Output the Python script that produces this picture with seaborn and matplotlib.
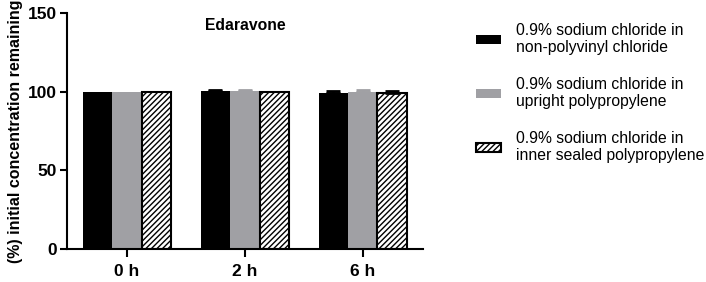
import matplotlib
matplotlib.use("Agg")
import matplotlib.pyplot as plt
import seaborn as sns
import pandas as pd
import numpy as np
from matplotlib.patches import Patch

sns.set_theme(style="ticks")
plt.rcParams['font.family'] = ['Liberation Sans', 'DejaVu Sans']
plt.rcParams['hatch.linewidth'] = 1.0
plt.rcParams['text.color'] = 'black'
plt.rcParams['axes.labelcolor'] = 'black'
plt.rcParams['xtick.color'] = 'black'
plt.rcParams['ytick.color'] = 'black'
plt.rcParams['axes.edgecolor'] = 'black'

times = ["0 h", "2 h", "6 h"]
groups = ["0.9% sodium chloride in\nnon-polyvinyl chloride",
          "0.9% sodium chloride in\nupright polypropylene",
          "0.9% sodium chloride in\ninner sealed polypropylene"]
means_npvc = [100.0, 100.4, 99.3]
means_upp = [100.0, 100.2, 100.0]
means_ispp = [100.0, 100.0, 99.2]
sd_npvc = [0.0, 0.9, 1.2]
sd_upp = [0.0, 1.0, 1.0]
sd_ispp = [0.0, 0.0, 1.4]
colors = ["#000000", "#A0A0A4", "#FFFFFF"]
err_colors = ["#000000", "#A0A0A4", "#000000"]

means = [means_npvc, means_upp, means_ispp]
sds = [sd_npvc, sd_upp, sd_ispp]
rows = []
for g, m, s in zip(groups, means, sds):
    for t, mv, sv in zip(times, m, s):
        rows.append({"time": t, "group": g, "mean": mv, "sd": sv})
df = pd.DataFrame(rows)

fig = plt.figure(figsize=(7.06, 2.82), dpi=100)
ax = fig.add_axes([0.0949, 0.117, 0.504, 0.837])

sns.barplot(data=df, x="time", y="mean", hue="group", hue_order=groups,
            order=times, palette=colors, width=0.75, errorbar=None,
            legend=False, ax=ax, linewidth=0, saturation=1)

bar_containers = list(ax.containers)
for gi, cont in enumerate(bar_containers):
    for ti, bar in enumerate(cont.patches):
        if gi == 2:
            bar.set_hatch("//////")
            bar.set_edgecolor("black")
            bar.set_linewidth(1.5)
        cx = bar.get_x() + bar.get_width() / 2
        top = bar.get_height()
        sd = sds[gi][ti]
        if sd > 0:
            ax.errorbar([cx], [top], yerr=[[0], [sd]], fmt="none",
                        ecolor=err_colors[gi], elinewidth=2, capsize=5,
                        capthick=2, zorder=1)

ax.set_ylim(0, 150)
ax.set_xlim(-0.51, 2.51)
ax.set_yticks([0, 50, 100, 150])
ax.set_xlabel("")
ax.set_ylabel("(%) initial concentration remaining", fontsize=11.5,
              fontweight="bold", labelpad=4)
for lab in ax.get_yticklabels() + ax.get_xticklabels():
    lab.set_fontweight("bold")
ax.tick_params(axis="y", labelsize=12.5, width=1.5, length=5, pad=2)
ax.tick_params(axis="x", labelsize=12.5, width=1.5, length=6, pad=5)
for sp in ["left", "bottom"]:
    ax.spines[sp].set_linewidth(1.5)
sns.despine(ax=ax)

ax.text(0.5, 0.945, "Edaravone", transform=ax.transAxes, ha="center",
        va="center", fontsize=11.3, fontweight="bold")

handles = []
for gi, g in enumerate(groups):
    if gi == 2:
        handles.append(Patch(facecolor="white", edgecolor="black",
                             hatch="//////", linewidth=1.5, label=g))
    else:
        handles.append(Patch(facecolor=colors[gi], edgecolor="none", label=g))
fig.legend(handles=handles, loc="upper left", bbox_to_anchor=(0.654, 0.969),
           frameon=False, fontsize=11.3, handlelength=1.6, handleheight=0.55,
           labelspacing=1.37, handletextpad=0.95)

fig.savefig("out.png", dpi=100)
